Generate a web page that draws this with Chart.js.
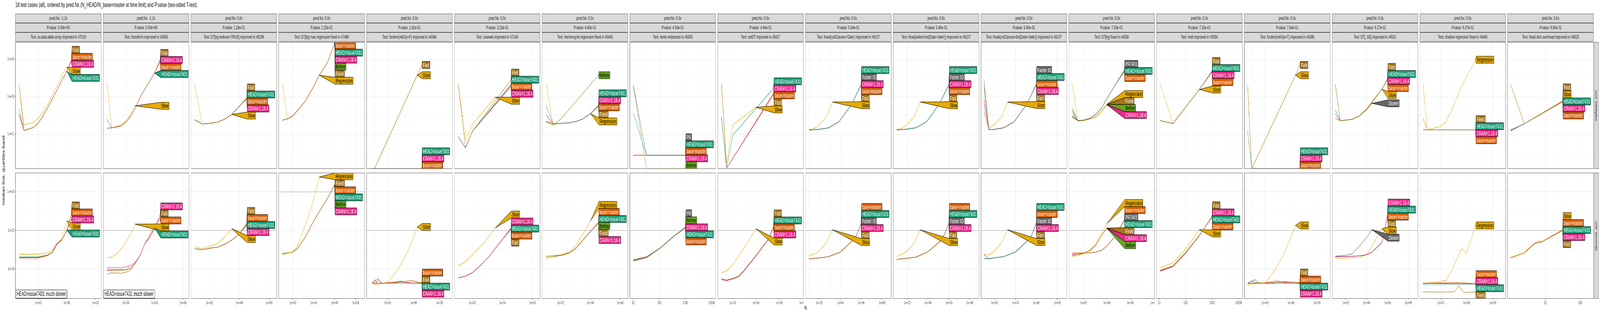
<!DOCTYPE html>
<html>
<head>
<meta charset="utf-8">
<script src="https://cdn.jsdelivr.net/npm/chart.js@4.4.1/dist/chart.umd.min.js"></script>
<style>
html,body{margin:0;padding:0;background:#fff;overflow:hidden}
#root{position:absolute;left:0;top:0;width:7200px;height:800px;transform-origin:0 0;font-family:"Liberation Sans",Arial,sans-serif}
.strip{position:absolute;box-sizing:border-box;background:#d9d9d9;border:1px solid #555;height:24px;font-size:13px;color:#1a1a1a;text-align:center;line-height:22px;white-space:nowrap;overflow:hidden}
.vstrip{position:absolute;box-sizing:border-box;background:#d9d9d9;border:1px solid #555;width:22px}
.vstrip span{position:absolute;left:50%;top:50%;transform:translate(-50%,-50%) rotate(90deg);font-size:13px;color:#1a1a1a;white-space:nowrap}
.cv{position:absolute}
#title{position:absolute;left:69px;top:3px;font-size:17px;color:#000;white-space:nowrap}
#ytitle{position:absolute;left:15px;top:437px;transform:translate(-50%,-50%) rotate(-90deg);font-size:15px;white-space:nowrap}
#xtitle{position:absolute;left:3620px;top:780px;font-size:15px}
</style>
</head>
<body>
<div id="root">
<div id="title">18 test cases (all), ordered by pred.Nx (N_HEAD/N_base=master at time limit) and P.value (two-sided T-test)</div>
<div id="ytitle">median line, quartiles band</div>
<div id="xtitle">N</div>
</div>
<script>
// ================= Facet strips =================
const testNames = [
  'as.data.table.array improved in #7019', 'transform improved in #5493', 'DT[by,verbose=TRUE] improved in #6296',
  'DT[by] max regression fixed in #7480', 'forderv(retGrp=F) improved in #4386', 'isoweek improved in #7144',
  'memrecycle regression fixed in #5463', 'fwrite refactored in #6393', 'setDT improved in #5427',
  "fread(colClasses='Date') improved in #6107", "fread(select=list(Date='date')) improved in #6107",
  "fread(colClasses=list(Date='date')) improved in #6107", 'DT[by] fixed in #4558', 'melt improved in #5054',
  'forderv(retGrp=T) improved in #4386', 'DT[,.SD] improved in #4501', 'shallow regression fixed in #4440',
  'fread disk overhead improved in #6925'
];
const predNx = ['-1.2x','-1.2x','0.0x','0.0x','0.0x','0.0x','0.0x','0.0x','0.0x','0.0x','0.0x','0.0x','0.0x','0.0x','0.0x','0.0x','0.0x','0.0x'];
const pValues = ['0.00e+00','0.00e+00','1.28e-01','2.25e-01','2.82e-01','3.23e-01','4.45e-01','4.59e-01','4.94e-01',
  '5.44e-01','5.46e-01','5.60e-01','7.30e-01','7.33e-01','7.84e-01','9.17e-01','9.37e-01','9.80e-01'];

// ================= Axes (log10 values) =================
const xRangeLog = [[0.6,9.63],[0.6,9.63],[0.75,6.52],[0.64,8.87],[0.53,10.5],[0.79,6.52],[0.75,6.52],[0.87,4.16],[0.69,8.1],
  [0.66,8.89],[0.66,8.89],[0.70,8.93],[0.72,8.1],[0.9,4.15],[0.58,10.55],[0.68,8.92],[0.59,10.51],[-0.09,2.39]];
const xTickLog = [[3,6,9],[3,6,9],[2,4,6],[2,4,6,8],[3,6,9],[2,4,6],[2,4,6],[1,2,3,4],[2,4,6,8],
  [2,4,6,8],[2,4,6,8],[2,4,6,8],[2,4,6,8],[1,2,3,4],[3,6,9],[2,4,6,8],[3,6,9],[1,2]];
const xTickLabels = [
  ['1e+03','1e+06','1e+09'],['1e+03','1e+06','1e+09'],['1e+02','1e+04','1e+06'],['1e+02','1e+04','1e+06','1e+08'],
  ['1e+03','1e+06','1e+09'],['1e+02','1e+04','1e+06'],['1e+02','1e+04','1e+06'],['10','100','1000','10000'],
  ['1e+02','1e+04','1e+06','1e+08'],['1e+02','1e+04','1e+06','1e+08'],['1e+02','1e+04','1e+06','1e+08'],
  ['1e+02','1e+04','1e+06','1e+08'],['1e+02','1e+04','1e+06','1e+08'],['10','100','1000','10000'],
  ['1e+03','1e+06','1e+09'],['1e+02','1e+04','1e+06','1e+08'],['1e+03','1e+06','1e+09'],['10','100']
];
const yRangeKb = [-0.85, 5.92];
const yRangeSec = [-5.54, 0.99];
const yTicksKb = [1,3,5], yTickLabelsKb = ['1e+01','1e+03','1e+05'];
const yTicksSec = [-4,-2,0], yTickLabelsSec = ['1e-04','1e-02','1e+00'];
const refLineSec = [-2,-2,-2,0,-2,-2,-2,-2,-2,-2,-2,-2,-2,-2,-2,-2,-2,-2];
const noteSec = ['HEAD=issue7431 much slower','HEAD=issue7431 much slower'];

// ================= Series: [label, [[log10 N, log10 value], ...]] (label order top to bottom) =================
const kb01 = [
  ['Fast', [[1,3.65],[1.5,1.2],[2.5,1.36],[3,1.6],[3.47,1.94],[4,2.42],[4.5,2.9],[6,4.37],[6.5,5.0]]],
  ['base=master', [[1,2.02],[1.5,1.2],[2.5,1.36],[3,1.6],[3.47,1.94],[4,2.42],[4.5,2.9],[6,4.37],[6.5,4.95]]],
  ['CRAN=1.18.4', [[1,2.12],[1.5,1.2],[2.5,1.36],[3,1.6],[3.47,1.94],[4,2.42],[4.5,2.9],[6,4.37],[6.5,4.9]]],
  ['Slow', [[1,3.65],[1.5,1.5],[2.5,1.63],[3,1.85],[3.47,2.17],[4,2.62],[4.5,3.1],[5.47,4.1],[6,4.58]]],
  ['HEAD=issue7431', [[1,2.35],[1.5,1.2],[2.5,1.36],[3,1.6],[3.47,1.94],[4,2.42],[4.5,2.9],[6,4.37]]]
];
const sec01 = [
  ['Fast', [[1,-3.4],[3,-3.4],[4,-3.28],[4.5,-3.12],[5,-2.7],[5.5,-2.47],[6,-2.0],[6.5,-1.04]]],
  ['base=master', [[1,-3.42],[3,-3.42],[4,-3.3],[4.5,-3.13],[5,-2.68],[5.5,-2.47],[6,-2.03],[6.5,-1.23]]],
  ['CRAN=1.18.4', [[1,-3.43],[3,-3.43],[4,-3.3],[4.5,-3.13],[4.8,-2.75],[5.5,-2.47],[6,-2.03],[6.5,-1.41]]],
  ['Slow', [[1,-3.23],[3,-3.23],[4,-3.16],[4.5,-3.03],[5.5,-2.4],[6,-1.5]]],
  ['HEAD=issue7431', [[1,-3.37],[3,-3.37],[4,-3.27],[4.5,-3.13],[5,-2.72],[5.5,-2.49],[6,-1.98]]]
];
const kb02 = [
  ['Fast', [[1,1.32],[1.5,1.34],[2.47,1.44],[3,1.65],[3.49,1.96],[3.95,2.37],[4.5,3.0],[6,4.27],[6.6,5.0]]],
  ['CRAN=1.18.4', [[1,1.32],[1.5,1.34],[2.47,1.44],[3,1.65],[3.49,1.96],[3.95,2.37],[4.5,3.0],[6,4.27],[6.6,4.95]]],
  ['base=master', [[1,1.32],[1.5,1.34],[2.47,1.44],[3,1.65],[3.49,1.96],[3.95,2.37],[4.5,3.0],[6,4.27],[6.6,4.9]]],
  ['HEAD=issue7431', [[1,1.79],[1.5,1.34],[2.47,1.44],[3,1.65],[3.49,1.96],[3.95,2.37],[4.5,3.0],[6,4.27]]],
  ['Slow', [[1,3.75],[1.5,1.34],[2.47,1.5],[3,1.73],[3.49,2.06],[3.95,2.52]]]
];
const sec02 = [
  ['CRAN=1.18.4', [[1,-3.94],[2.47,-3.92],[3,-3.9],[3.49,-3.82],[3.95,-3.66],[4.5,-3.28],[4.97,-2.69],[5.45,-2.38],[6,-1.88],[6.6,-1.15]]],
  ['Fast', [[1,-4.27],[1.5,-4.2],[2.47,-4.22],[3,-4.17],[3.49,-4.05],[3.95,-3.72],[4.5,-3.28],[4.97,-2.69],[6,-1.8],[6.6,-1.3]]],
  ['base=master', [[1,-4.07],[3,-4.05],[3.49,-3.95],[3.95,-3.7],[4.5,-3.28],[4.97,-2.69],[5.45,-2.4],[6,-1.9],[6.6,-1.4]]],
  ['Slow', [[1,-3.41],[1.5,-3.37],[1.97,-3.23],[2.47,-2.99],[3,-2.6],[3.49,-2.18],[3.95,-1.67]]],
  ['HEAD=issue7431', [[1,-4.04],[3,-4.02],[3.49,-3.95],[3.95,-3.7],[4.5,-3.28],[4.97,-2.69],[5.45,-2.38],[6,-1.88]]]
];
const kb03 = [
  ['Fast', [[1,1.77],[1.51,1.55],[2,1.58],[2.52,1.64],[3,1.8],[3.5,2.06],[4,2.49],[4.5,2.95]]],
  ['HEAD=issue7431', [[1,1.77],[1.51,1.55],[2,1.58],[2.52,1.64],[3,1.8],[3.5,2.06],[4,2.49],[4.5,2.93]]],
  ['base=master', [[1,1.77],[1.51,1.55],[2,1.58],[2.52,1.64],[3,1.8],[3.5,2.06],[4,2.49],[4.5,2.91]]],
  ['CRAN=1.18.4', [[1,1.77],[1.51,1.55],[2,1.58],[2.52,1.64],[3,1.8],[3.5,2.06],[4,2.49],[4.5,2.89]]],
  ['Slow', [[1,3.67],[1.51,1.55],[2,1.58],[2.52,1.64],[3,1.8],[3.5,2.06]]]
];
const sec03 = [
  ['Fast', [[1,-2.94],[1.51,-3.0],[2,-2.92],[2.52,-2.87],[3,-2.72],[3.5,-2.5],[4,-2.18],[4.5,-1.62]]],
  ['base=master', [[1,-2.94],[1.51,-3.0],[2,-2.92],[2.52,-2.87],[3,-2.72],[3.5,-2.5],[4,-2.18],[4.5,-1.66]]],
  ['HEAD=issue7431', [[1,-2.94],[1.51,-3.0],[2,-2.92],[2.52,-2.87],[3,-2.72],[3.5,-2.5],[4,-2.18],[4.5,-1.69]]],
  ['CRAN=1.18.4', [[1,-2.94],[1.51,-3.0],[2,-2.92],[2.52,-2.87],[3,-2.72],[3.5,-2.5],[4,-2.18],[4.5,-1.72]]],
  ['Slow', [[1,-2.85],[1.51,-2.94],[2,-2.81],[2.52,-2.67],[3,-2.36],[3.5,-1.91]]]
];
const kb04 = [
  ['base=master', [[1,1.75],[1.47,1.82],[2,1.98],[2.49,2.3],[3.17,2.76],[3.85,3.41],[4.53,4.15],[5.35,4.88],[6,5.9]]],
  ['HEAD=issue7431', [[1,1.75],[1.47,1.82],[2,1.98],[2.49,2.3],[3.17,2.76],[3.85,3.41],[4.53,4.15],[5.35,4.88],[6,5.9]]],
  ['CRAN=1.18.4', [[1,1.75],[1.47,1.82],[2,1.98],[2.49,2.3],[3.17,2.76],[3.85,3.41],[4.53,4.15],[5.35,4.88],[6,5.9]]],
  ['Before', [[1,1.75],[1.47,1.82],[2,1.98],[2.49,2.3],[3.17,2.76],[3.85,3.41],[4.53,4.15],[5.35,4.88],[6,5.9]]],
  ['Fixed', [[1,1.75],[1.47,1.82],[2,1.98],[2.49,2.3],[3.17,2.76],[3.85,3.41],[4.53,4.15],[5.35,4.88],[6,5.9]]],
  ['Regression', [[1,3.67],[1.47,1.82],[2,1.98],[2.49,2.3],[3.17,2.76],[3.85,3.41],[4.53,4.15]]]
];
const sec04 = [
  ['Regression', [[1,-3.26],[2,-3.1],[2.49,-2.76],[3.17,-1.74],[3.85,-0.66],[4.53,0.77]]],
  ['Fixed', [[1,-3.21],[2,-3.12],[2.49,-2.9],[3.17,-2.36],[3.85,-1.65],[4.53,-1.02],[5.35,-0.3],[6,0.39]]],
  ['base=master', [[1,-3.21],[2,-3.12],[2.49,-2.9],[3.17,-2.36],[3.85,-1.65],[4.53,-1.02],[5.35,-0.3],[6,0.38]]],
  ['HEAD=issue7431', [[1,-3.21],[2,-3.12],[2.49,-2.9],[3.17,-2.36],[3.85,-1.65],[4.53,-1.02],[5.35,-0.3],[6,0.37]]],
  ['Before', [[1,-3.21],[2,-3.12],[2.49,-2.9],[3.17,-2.36],[3.85,-1.65],[4.53,-1.02],[5.35,-0.3],[6,0.36]]],
  ['CRAN=1.18.4', [[1,-3.21],[2,-3.12],[2.49,-2.9],[3.17,-2.36],[3.85,-1.65],[4.53,-1.02],[5.35,-0.3],[6,0.35]]]
];
const kb05 = [
  ['Fast', [[1.46,-0.84],[6.41,4.15],[6.95,4.7]]],
  ['Slow', [[1.46,-0.84],[6.41,4.15]]],
  ['HEAD=issue7431', [[1,-0.84],[6.95,-0.84]]],
  ['CRAN=1.18.4', [[1,-0.84],[6.95,-0.84]]],
  ['base=master', [[1,-0.84],[6.95,-0.84]]]
];
const sec05 = [
  ['Slow', [[1.46,-4.82],[3,-4.69],[4.26,-3.97],[5.08,-3.3],[6,-2.36],[6.41,-1.82]]],
  ['base=master', [[1.2,-4.75],[1.6,-4.72],[2,-4.6],[2.4,-4.75],[3.5,-4.72],[4.5,-4.62],[5.5,-4.74],[6.95,-4.7]]],
  ['Fast', [[1.2,-4.76],[2.5,-4.74],[4,-4.7],[5.8,-4.6],[6.95,-4.72]]],
  ['HEAD=issue7431', [[1.2,-4.74],[1.9,-4.5],[2.3,-4.75],[3.5,-4.73],[6.95,-4.74]]],
  ['CRAN=1.18.4', [[1.2,-4.73],[1.5,-4.55],[1.8,-4.75],[4.3,-4.66],[6.95,-4.76]]]
];
const kb06 = [
  ['Fast', [[1.06,3.67],[1.54,0.3],[2,1.15],[4.57,3.9]]],
  ['HEAD=issue7431', [[1.06,0.87],[1.54,0.27],[2,1.15],[4.57,3.67]]],
  ['base=master', [[1.06,0.87],[1.54,0.27],[2,1.15],[4.57,3.6]]],
  ['CRAN=1.18.4', [[1.06,0.87],[1.54,0.27],[2,1.15],[4.57,3.55]]],
  ['Slow', [[1.06,3.67],[1.54,0.69],[2,1.52],[3.52,2.98]]]
];
const sec06 = [
  ['Slow', [[1.06,-3.84],[1.54,-3.61],[2,-3.26],[2.78,-2.63],[3.52,-1.87]]],
  ['CRAN=1.18.4', [[1.06,-4.46],[1.54,-4.37],[2,-4.19],[2.58,-3.79],[3.16,-3.3],[3.92,-2.54],[4.57,-1.88]]],
  ['HEAD=issue7431', [[1.06,-4.46],[1.54,-4.37],[2,-4.19],[2.58,-3.79],[3.16,-3.3],[3.92,-2.54],[4.57,-1.9]]],
  ['base=master', [[1.06,-4.46],[1.54,-4.37],[2,-4.19],[2.58,-3.79],[3.16,-3.3],[3.92,-2.54],[4.57,-1.92]]],
  ['Fast', [[1.06,-4.46],[1.54,-4.37],[2,-4.19],[2.58,-3.79],[3.16,-3.3],[3.92,-2.54],[4.57,-1.94]]]
];
const kb07 = [
  ['Before', [[1.02,1.66],[1.49,1.49],[2,1.8],[4.54,4.15]]],
  ['HEAD=issue7431', [[1.02,2.55],[1.49,1.56],[2,1.58],[2.54,1.61],[3.01,1.68],[3.49,1.82],[4,2.1],[4.54,2.55]]],
  ['CRAN=1.18.4', [[1.02,2.03],[1.49,1.56],[2,1.58],[2.54,1.61],[3.01,1.68],[3.49,1.82],[4,2.1],[4.54,2.53]]],
  ['base=master', [[1.02,1.7],[1.49,1.56],[2,1.58],[2.54,1.61],[3.01,1.68],[3.49,1.82],[4,2.1],[4.54,2.51]]],
  ['Fixed', [[1.02,1.7],[1.49,1.56],[2,1.58],[2.54,1.61],[3.01,1.68],[3.49,1.82],[4,2.1],[4.54,2.49]]],
  ['Regression', [[1.02,3.67],[1.49,1.52],[2,1.58],[2.54,1.61],[3.01,1.68],[3.49,1.82],[4,2.1]]]
];
const sec07 = [
  ['Regression', [[1.02,-3.36],[2,-3.26],[2.54,-3.12],[3.01,-2.81],[3.49,-2.18],[4,-1.51]]],
  ['base=master', [[1.02,-3.34],[2,-3.3],[2.54,-3.18],[3.01,-2.94],[3.49,-2.5],[4,-2.05],[4.54,-1.58]]],
  ['HEAD=issue7431', [[1.02,-3.34],[2,-3.3],[2.54,-3.18],[3.01,-2.94],[3.49,-2.5],[4,-2.05],[4.54,-1.59]]],
  ['Before', [[1.02,-3.43],[2,-3.3],[2.54,-3.18],[3.01,-2.94],[3.49,-2.5],[4,-2.05],[4.54,-1.6]]],
  ['Fixed', [[1.02,-3.34],[2,-3.3],[2.54,-3.18],[3.01,-2.94],[3.49,-2.5],[4,-2.05],[4.54,-1.61]]],
  ['CRAN=1.18.4', [[1.02,-3.34],[2,-3.3],[2.54,-3.18],[3.01,-2.94],[3.49,-2.5],[4,-2.05],[4.54,-1.62]]]
];
const kb08 = [
  ['PR', [[1,3.64],[1.51,-0.12],[3,-0.12]]],
  ['HEAD=issue7431', [[1,2.14],[1.51,-0.12],[3,-0.12]]],
  ['base=master', [[1,-0.12],[3,-0.12]]],
  ['CRAN=1.18.4', [[1,-0.12],[3,-0.12]]],
  ['Before', [[1,3.6],[1.51,-0.84],[3,-0.84]]]
];
const sec08 = [
  ['PR', [[1,-3.52],[1.51,-3.36],[2,-2.94],[2.5,-2.36],[3,-1.82]]],
  ['Before', [[1,-3.59],[1.51,-3.42],[2,-2.96],[2.5,-2.38],[3,-1.83]]],
  ['CRAN=1.18.4', [[1,-3.55],[1.51,-3.4],[2,-2.95],[2.5,-2.37],[3,-1.84]]],
  ['HEAD=issue7431', [[1,-3.55],[1.51,-3.4],[2,-2.95],[2.5,-2.37],[3,-1.85]]],
  ['base=master', [[1,-3.55],[1.51,-3.4],[2,-2.95],[2.5,-2.37],[3,-1.86]]]
];
const kb09 = [
  ['HEAD=issue7431', [[1.03,1.92],[1.47,-0.81],[2,0.95],[5.52,3.46]]],
  ['CRAN=1.18.4', [[1.03,1.92],[1.47,-0.81],[5.52,3.2]]],
  ['base=master', [[1.03,1.92],[1.47,-0.81],[5.52,3.15]]],
  ['Fast', [[1.03,3.67],[1.47,-0.81],[5.52,3.13]]],
  ['Slow', [[1.03,3.67],[1.47,-0.56],[2,1.5],[4,2.44]]]
];
const sec09 = [
  ['Fast', [[1.03,-4.51],[1.47,-4.58],[2,-4.49],[2.5,-4.37],[2.93,-4.1],[4,-3.3],[5.06,-2.45],[5.52,-1.8]]],
  ['HEAD=issue7431', [[1.03,-4.51],[1.47,-4.58],[2,-4.49],[2.5,-4.37],[2.93,-4.1],[4,-3.3],[5.06,-2.45],[5.52,-1.82]]],
  ['base=master', [[1.03,-4.51],[1.47,-4.58],[2,-4.49],[2.5,-4.37],[2.93,-4.1],[4,-3.3],[5.06,-2.45],[5.52,-1.84]]],
  ['CRAN=1.18.4', [[1.03,-4.55],[1.47,-4.6],[2,-4.52],[2.5,-4.4],[2.93,-4.13],[4,-3.33],[5.06,-2.48],[5.52,-1.86]]],
  ['Slow', [[1.03,-4.19],[1.47,-4.1],[2,-3.77],[2.93,-2.94],[4,-1.91]]]
];
const kb10 = [
  ['HEAD=issue7431', [[1,1.22],[1.52,1.25],[2,1.26],[2.87,1.34],[3.87,1.66],[5.07,2.58],[6,3.66]]],
  ['Faster IO', [[1,1.22],[1.52,1.25],[2,1.26],[2.87,1.34],[3.87,1.66],[5.07,2.58],[6,3.65]]],
  ['CRAN=1.18.4', [[1,1.22],[1.52,1.25],[2,1.26],[2.87,1.34],[3.87,1.66],[5.07,2.58],[6,3.64]]],
  ['base=master', [[1,1.22],[1.52,1.25],[2,1.26],[2.87,1.34],[3.87,1.66],[5.07,2.58],[6,3.63]]],
  ['Fast', [[1,1.22],[1.52,1.25],[2,1.26],[2.87,1.34],[3.87,1.66],[5.07,2.58],[6,3.62]]],
  ['Slow', [[1,1.24],[1.52,1.31],[2,1.52],[2.68,1.93],[3.25,2.72]]]
];
const sec10 = [
  ['base=master', [[1,-3.48],[2,-3.42],[2.87,-3.36],[4,-3.12],[5.07,-2.58],[5.53,-2.27],[6,-1.62]]],
  ['HEAD=issue7431', [[1,-3.48],[2,-3.42],[2.87,-3.36],[4,-3.12],[5.07,-2.58],[5.53,-2.27],[6,-1.63]]],
  ['Faster IO', [[1,-3.48],[2,-3.42],[2.87,-3.36],[4,-3.12],[5.07,-2.58],[5.53,-2.27],[6,-1.64]]],
  ['CRAN=1.18.4', [[1,-3.48],[2,-3.42],[2.87,-3.36],[4,-3.12],[5.07,-2.58],[5.53,-2.27],[6,-1.65]]],
  ['Fast', [[1,-3.48],[2,-3.42],[2.87,-3.36],[4,-3.12],[5.07,-2.58],[5.53,-2.27],[6,-1.66]]],
  ['Slow', [[1,-3.33],[1.52,-3.21],[2,-3.06],[2.68,-2.63],[3.25,-1.96]]]
];
const kb11 = [
  ['HEAD=issue7431', [[1,1.23],[1.52,1.25],[2,1.27],[2.87,1.35],[3.87,1.67],[5.07,2.6],[6,3.66]]],
  ['Faster IO', [[1,1.23],[1.52,1.25],[2,1.27],[2.87,1.35],[3.87,1.67],[5.07,2.6],[6,3.65]]],
  ['CRAN=1.18.4', [[1,1.23],[1.52,1.25],[2,1.27],[2.87,1.35],[3.87,1.67],[5.07,2.6],[6,3.64]]],
  ['base=master', [[1,1.23],[1.52,1.25],[2,1.27],[2.87,1.35],[3.87,1.67],[5.07,2.6],[6,3.63]]],
  ['Fast', [[1,1.23],[1.52,1.25],[2,1.27],[2.87,1.35],[3.87,1.67],[5.07,2.6],[6,3.62]]],
  ['Slow', [[1,1.25],[1.52,1.32],[2,1.53],[2.68,1.94],[3.25,2.72]]]
];
const sec11 = [
  ['base=master', [[1,-3.5],[2,-3.44],[2.87,-3.38],[4,-3.1],[5.07,-2.6],[5.53,-2.25],[6,-1.62]]],
  ['HEAD=issue7431', [[1,-3.5],[2,-3.44],[2.87,-3.38],[4,-3.1],[5.07,-2.6],[5.53,-2.25],[6,-1.63]]],
  ['Faster IO', [[1,-3.5],[2,-3.44],[2.87,-3.38],[4,-3.1],[5.07,-2.6],[5.53,-2.25],[6,-1.64]]],
  ['CRAN=1.18.4', [[1,-3.5],[2,-3.44],[2.87,-3.38],[4,-3.1],[5.07,-2.6],[5.53,-2.25],[6,-1.65]]],
  ['Fast', [[1,-3.5],[2,-3.44],[2.87,-3.38],[4,-3.1],[5.07,-2.6],[5.53,-2.25],[6,-1.66]]],
  ['Slow', [[1,-3.35],[1.52,-3.22],[2,-3.07],[2.68,-2.64],[3.25,-1.96]]]
];
const kb12 = [
  ['Faster IO', [[1,3.9],[1.46,1.24],[2,1.26],[2.87,1.34],[3.87,1.66],[5.07,2.58],[6,3.67]]],
  ['HEAD=issue7431', [[1,3.5],[1.46,1.24],[2,1.26],[2.87,1.34],[3.87,1.66],[5.07,2.58],[6,3.66]]],
  ['base=master', [[1,2.9],[1.46,1.24],[2,1.26],[2.87,1.34],[3.87,1.66],[5.07,2.58],[6,3.65]]],
  ['CRAN=1.18.4', [[1,2.65],[1.46,1.24],[2,1.26],[2.87,1.34],[3.87,1.66],[5.07,2.58],[6,3.64]]],
  ['Fast', [[1,2.2],[1.46,1.24],[2,1.26],[2.87,1.34],[3.87,1.66],[5.07,2.58],[6,3.63]]],
  ['Slow', [[1,3.6],[1.46,1.31],[2,1.52],[2.68,1.93],[3.25,2.72]]]
];
const sec12 = [
  ['HEAD=issue7431', [[1,-3.45],[1.46,-3.46],[2,-3.42],[2.87,-3.36],[4,-3.12],[5.07,-2.58],[5.53,-2.27],[6,-1.62]]],
  ['base=master', [[1,-3.45],[1.46,-3.46],[2,-3.42],[2.87,-3.36],[4,-3.12],[5.07,-2.58],[5.53,-2.27],[6,-1.63]]],
  ['Faster IO', [[1,-3.25],[1.46,-3.48],[2,-3.42],[2.87,-3.36],[4,-3.12],[5.07,-2.58],[5.53,-2.27],[6,-1.64]]],
  ['CRAN=1.18.4', [[1,-3.45],[1.46,-3.46],[2,-3.42],[2.87,-3.36],[4,-3.12],[5.07,-2.58],[5.53,-2.27],[6,-1.65]]],
  ['Fast', [[1,-3.45],[1.46,-3.46],[2,-3.42],[2.87,-3.36],[4,-3.12],[5.07,-2.58],[5.53,-2.27],[6,-1.66]]],
  ['Slow', [[1,-3.24],[1.46,-3.28],[2,-3.06],[2.68,-2.63],[3.25,-1.96]]]
];
const kb13 = [
  ['PR7401', [[1.02,1.95],[1.52,1.73],[2,1.75],[2.57,1.86],[3.06,2.07],[3.54,2.39],[4,2.9],[4.62,3.55],[5.5,4.42]]],
  ['HEAD=issue7431', [[1.02,2.3],[1.52,1.73],[2,1.75],[2.57,1.86],[3.06,2.07],[3.54,2.39],[4,2.9],[4.62,3.55],[5.5,4.38]]],
  ['base=master', [[1.02,1.9],[1.52,1.73],[2,1.75],[2.57,1.86],[3.06,2.07],[3.54,2.39],[4,2.9],[4.62,3.55],[5.5,4.34]]],
  ['Regression', [[1.02,3.67],[1.52,1.7],[2,1.73],[2.57,1.82],[3.06,1.93],[3.54,2.21],[4,2.6]]],
  ['Fixed', [[1.02,2.21],[1.52,1.7],[2,1.73],[2.57,1.82],[3.06,1.93],[3.54,2.21],[4,2.59]]],
  ['Before', [[1.02,2.44],[1.52,1.7],[2,1.73],[2.57,1.82],[3.06,1.93],[3.54,2.21],[4,2.58]]],
  ['CRAN=1.18.4', [[1.02,2.03],[1.52,1.7],[2,1.73],[2.57,1.82],[3.06,1.93],[3.54,2.21],[4,2.57]]]
];
const sec13 = [
  ['Regression', [[1.02,-3.36],[1.52,-3.3],[2,-3.21],[2.57,-2.99],[3.06,-2.67],[3.54,-2.14],[4,-1.65]]],
  ['base=master', [[1.02,-3.17],[2,-3.17],[2.57,-3.15],[3.06,-3.12],[3.54,-3.03],[4,-2.81],[4.62,-2.36],[5.5,-1.45]]],
  ['PR7401', [[1.02,-3.17],[2,-3.17],[2.57,-3.15],[3.06,-3.12],[3.54,-3.03],[4,-2.81],[4.62,-2.36],[5.5,-1.47]]],
  ['HEAD=issue7431', [[1.02,-3.17],[2,-3.17],[2.57,-3.15],[3.06,-3.12],[3.54,-3.03],[4,-2.81],[4.62,-2.36],[5.5,-1.49]]],
  ['Fixed', [[1.02,-3.3],[1.52,-3.24],[2,-3.17],[2.57,-3.03],[3.06,-2.76],[3.54,-2.27],[4,-1.87]]],
  ['CRAN=1.18.4', [[1.02,-3.25],[1.52,-3.24],[2,-3.17],[2.57,-3.03],[3.06,-2.76],[3.54,-2.27],[4,-1.88]]],
  ['Before', [[1.02,-3.3],[1.52,-3.24],[2,-3.17],[2.57,-3.03],[3.06,-2.76],[3.54,-2.27],[4,-1.89]]]
];
const kb14 = [
  ['Fast', [[1.04,1.73],[1.52,1.57],[2.52,3.39],[3,4.38]]],
  ['HEAD=issue7431', [[1.04,1.73],[1.52,1.57],[2.52,3.39],[3,4.36]]],
  ['CRAN=1.18.4', [[1.04,1.73],[1.52,1.57],[2.52,3.39],[3,4.34]]],
  ['base=master', [[1.04,1.73],[1.52,1.57],[2.52,3.39],[3,4.32]]],
  ['Slow', [[1.04,3.67],[1.52,1.57],[2.52,3.39]]]
];
const sec14 = [
  ['Fast', [[1.04,-4.08],[1.52,-3.86],[2,-3.17],[2.52,-2.27],[3,-1.27]]],
  ['CRAN=1.18.4', [[1.04,-4.12],[1.52,-3.88],[2,-3.19],[2.52,-2.28],[3,-1.29]]],
  ['HEAD=issue7431', [[1.04,-4.08],[1.52,-3.86],[2,-3.17],[2.52,-2.27],[3,-1.3]]],
  ['base=master', [[1.04,-4.06],[1.52,-3.84],[2,-3.15],[2.52,-2.25],[3,-1.32]]],
  ['Slow', [[1.04,-3.93],[1.52,-3.68],[2,-2.99],[2.52,-1.96]]]
];
const kb15 = [
  ['Fast', [[0.97,3.67],[1.45,-0.84],[6.52,4.15],[7.03,4.7]]],
  ['Slow', [[0.97,3.67],[1.45,-0.84],[6.52,4.15]]],
  ['HEAD=issue7431', [[0.97,1.2],[1.45,-0.84],[7.03,-0.84]]],
  ['CRAN=1.18.4', [[1.45,-0.84],[7.03,-0.84]]],
  ['base=master', [[1.45,-0.84],[7.03,-0.84]]]
];
const sec15 = [
  ['Slow', [[0.97,-4.8],[3,-4.73],[4.26,-3.97],[5.08,-3.3],[6,-2.36],[6.52,-1.74]]],
  ['Fast', [[0.97,-4.76],[2.2,-4.7],[3.4,-4.75],[5.2,-4.65],[7.03,-4.7]]],
  ['base=master', [[0.97,-4.74],[2.6,-4.73],[4.4,-4.62],[5.6,-4.74],[7.03,-4.72]]],
  ['HEAD=issue7431', [[0.97,-4.75],[1.8,-4.55],[2.3,-4.75],[4.0,-4.74],[7.03,-4.74]]],
  ['CRAN=1.18.4', [[0.97,-4.73],[1.5,-4.62],[1.9,-4.76],[5.0,-4.68],[7.03,-4.76]]]
];
const kb16 = [
  ['Fast', [[1,3.67],[1.47,1.73],[2,1.75],[2.62,1.8],[3.3,1.98],[4,2.35],[5.46,3.41],[6,3.98]]],
  ['HEAD=issue7431', [[1,2.3],[1.47,1.73],[2,1.75],[2.62,1.8],[3.3,1.98],[4,2.35],[5.46,3.41],[6,3.96]]],
  ['CRAN=1.18.4', [[1,2.1],[1.47,1.73],[2,1.75],[2.62,1.8],[3.3,1.98],[4,2.35],[5.46,3.41],[6,3.94]]],
  ['base=master', [[1,1.84],[1.47,1.73],[2,1.75],[2.62,1.8],[3.3,1.98],[4,2.35],[5.46,3.41],[6,3.92]]],
  ['Slow', [[1,3.67],[1.47,1.73],[2,1.75],[2.62,1.8],[3.3,1.98],[4,2.3],[5.46,3.41]]],
  ['Slower', [[1,3.67],[1.47,1.73],[2,1.75],[2.62,1.8],[3.3,1.98],[4,2.3],[4.5,2.65]]]
];
const sec16 = [
  ['CRAN=1.18.4', [[1,-3.36],[2,-3.36],[3.3,-3.32],[4,-3.26],[4.5,-3.12],[5.46,-2.63],[6,-1.2]]],
  ['HEAD=issue7431', [[1,-3.36],[2,-3.36],[3.3,-3.32],[4,-3.26],[4.5,-3.12],[5.46,-2.63],[6,-1.22]]],
  ['base=master', [[1,-3.36],[2,-3.36],[3.3,-3.32],[4,-3.26],[4.5,-3.12],[5.46,-2.63],[6,-1.24]]],
  ['Fast', [[1,-3.36],[2,-3.36],[3.3,-3.32],[4,-3.26],[4.5,-3.12],[5.46,-2.63],[6,-1.26]]],
  ['Slow', [[1,-3.45],[2,-3.43],[3.3,-3.4],[4,-3.26],[4.5,-2.81],[5.46,-1.91]]],
  ['Slower', [[1,-3.33],[2,-3.3],[2.62,-3.21],[3.3,-2.81],[4,-2.36],[4.5,-1.96]]]
];
const kb17 = [
  ['Regression', [[0.97,3.67],[1.46,1.24],[2.28,1.33],[3,1.43],[3.59,1.66],[4.41,2.44],[5.41,3.59],[7.03,4.98]]],
  ['Fixed', [[0.97,1.84],[1.46,1.24],[7.03,1.24]]],
  ['HEAD=issue7431', [[0.97,1.24],[7.03,1.24]]],
  ['CRAN=1.18.4', [[0.97,1.24],[7.03,1.24]]],
  ['base=master', [[0.97,1.24],[7.03,1.24]]]
];
const sec17 = [
  ['Regression', [[0.97,-4.73],[2.3,-4.7],[3.59,-4.6],[4.41,-3.97],[5.41,-2.94],[6,-3.17],[7.03,-1.74]]],
  ['base=master', [[0.97,-4.75],[3,-4.72],[5,-4.7],[7.03,-4.76]]],
  ['CRAN=1.18.4', [[0.97,-4.72],[4,-4.75],[7.03,-4.77]]],
  ['HEAD=issue7431', [[0.97,-4.78],[7.03,-4.78]]],
  ['Fixed', [[0.97,-5.18],[3,-5.2],[4.6,-5.18],[5.07,-4.86],[5.66,-5.22],[7.03,-5.18]]]
];
const kb18 = [
  ['Fast', [[0,3.65],[0.39,1.56],[1.5,2.78]]],
  ['Slow', [[0,3.65],[0.39,1.56],[1.5,2.76]]],
  ['HEAD=issue7431', [[0,1.23],[0.39,1.56],[1.5,2.75]]],
  ['CRAN=1.18.4', [[0,1.2],[0.39,1.56],[1.5,2.74]]],
  ['base=master', [[0,1.18],[0.39,1.56],[1.5,2.73]]]
];
const sec18 = [
  ['Slow', [[0,-3.4],[0.4,-3.14],[0.6,-2.75],[0.8,-2.55],[0.91,-2.56],[1.5,-1.96]]],
  ['base=master', [[0,-3.42],[0.4,-3.15],[0.7,-2.67],[0.91,-2.58],[1.5,-1.97]]],
  ['HEAD=issue7431', [[0,-3.42],[0.4,-3.15],[0.7,-2.67],[0.91,-2.58],[1.5,-1.98]]],
  ['CRAN=1.18.4', [[0,-3.42],[0.4,-3.15],[0.7,-2.67],[0.91,-2.58],[1.5,-1.99]]],
  ['Fast', [[0,-3.42],[0.4,-3.15],[0.7,-2.67],[0.91,-2.58],[1.5,-2.0]]]
];
const kbSeries = [kb01,kb02,kb03,kb04,kb05,kb06,kb07,kb08,kb09,kb10,kb11,kb12,kb13,kb14,kb15,kb16,kb17,kb18];
const secSeries = [sec01,sec02,sec03,sec04,sec05,sec06,sec07,sec08,sec09,sec10,sec11,sec12,sec13,sec14,sec15,sec16,sec17,sec18];

// ================= Styles =================
const seriesColors = {
  'Fast':'#A6761D','Fixed':'#A6761D','base=master':'#D95F02','CRAN=1.18.4':'#E7298A','HEAD=issue7431':'#1B9E77',
  'Slow':'#E6AB02','Regression':'#E6AB02','Before':'#66A61E','PR':'#666666','Faster IO':'#666666','PR7401':'#666666','Slower':'#666666'
};
const darkText = ['Slow','Regression','Before'];
const PANEL_LEFT = 69, PANEL_STEP = 395, PANEL_W = 387;
const ROW_TOP = [108, 443], ROW_H = [325, 323];
const PAD_L = 60, PAD_B = 22;
const root = document.getElementById('root');

// fit the 7200x800 layout into whatever viewport we get
function fitRoot() {
  const sx = (window.innerWidth || 7200) / 7200, sy = (window.innerHeight || 800) / 800;
  root.style.transform = `scale(${sx}, ${sy})`;
}
fitRoot();

// ================= Plugins =================
const panelPlugin = {
  id: 'panelPlugin',
  beforeDatasetsDraw(chart) {
    const o = chart.options.plugins.panelPlugin;
    if (o.ref === undefined) return;
    const {ctx, chartArea: a} = chart;
    const y = chart.scales.y.getPixelForValue(10 ** o.ref);
    ctx.save();
    ctx.strokeStyle = '#bdbdbd'; ctx.lineWidth = 1.5;
    ctx.beginPath(); ctx.moveTo(a.left, y); ctx.lineTo(a.right, y); ctx.stroke();
    ctx.restore();
  },
  afterDatasetsDraw(chart) {
    const {ctx, chartArea: a} = chart;
    const h = 18;
    const items = chart.data.datasets.map((ds, k) => {
      const pts = chart.getDatasetMeta(k).data;
      const p = pts[pts.length - 1];
      return {name: ds.label, px: p.x, py: p.y};
    });
    const colX = Math.max(...items.map(d => d.px)) + 2;
    // keep listed order, minimal shift (pool adjacent violators)
    const blocks = [];
    items.forEach((d, i) => {
      blocks.push({sum: d.py - i * h, n: 1});
      while (blocks.length > 1) {
        const b1 = blocks[blocks.length - 2], b2 = blocks[blocks.length - 1];
        if (b1.sum / b1.n <= b2.sum / b2.n) break;
        b1.sum += b2.sum; b1.n += b2.n; blocks.pop();
      }
    });
    let ys = [];
    blocks.forEach(b => { for (let j = 0; j < b.n; j++) ys.push(b.sum / b.n); });
    ys = ys.map((z, i) => z + i * h);
    const n = ys.length;
    for (let i = 0; i < n; i++) ys[i] = Math.min(ys[i], a.bottom - h / 2 - (n - 1 - i) * h);
    for (let i = 0; i < n; i++) ys[i] = Math.max(ys[i], a.top + h / 2 + i * h);

    ctx.save();
    ctx.beginPath(); ctx.rect(a.left, a.top, a.right - a.left, a.bottom - a.top); ctx.clip();
    ctx.font = '15px "Liberation Sans", Arial, sans-serif';
    ctx.textBaseline = 'middle';
    items.forEach((d, i) => {
      const w = ctx.measureText(d.name).width + 5;
      const top = ys[i] - h / 2, bot = ys[i] + h / 2;
      ctx.beginPath();
      ctx.moveTo(d.px, d.py);
      ctx.lineTo(colX, top); ctx.lineTo(colX + w, top); ctx.lineTo(colX + w, bot); ctx.lineTo(colX, bot);
      ctx.closePath();
      ctx.fillStyle = seriesColors[d.name]; ctx.fill();
      ctx.strokeStyle = '#000'; ctx.lineWidth = 1; ctx.stroke();
      ctx.fillStyle = darkText.includes(d.name) ? '#000' : '#fff';
      ctx.fillText(d.name, colX + 2.5, ys[i] + 1);
    });
    ctx.restore();

    const o = chart.options.plugins.panelPlugin;
    if (o.note) {
      ctx.save();
      ctx.font = '16px "Liberation Sans", Arial, sans-serif';
      const w = ctx.measureText(o.note).width + 10;
      ctx.fillStyle = '#fff'; ctx.strokeStyle = '#000'; ctx.lineWidth = 1;
      ctx.beginPath(); ctx.roundRect(a.left + 1.5, a.bottom - 22.5, w, 21, 3); ctx.fill(); ctx.stroke();
      ctx.fillStyle = '#000'; ctx.textBaseline = 'middle';
      ctx.fillText(o.note, a.left + 6, a.bottom - 11.5);
      ctx.restore();
    }
  },
  afterDraw(chart) {
    const o = chart.options.plugins.panelPlugin;
    const {ctx, chartArea: a} = chart;
    ctx.save();
    ctx.strokeStyle = '#555'; ctx.lineWidth = 1;
    ctx.strokeRect(a.left + 0.5, a.top + 0.5, a.right - a.left - 1, a.bottom - a.top - 1);
    ctx.fillStyle = '#4d4d4d'; ctx.strokeStyle = '#333';
    ctx.font = '11px "Liberation Sans", Arial, sans-serif';
    if (o.xLabels) {
      ctx.textAlign = 'center'; ctx.textBaseline = 'top';
      o.xTicks.forEach((v, k) => {
        const x = chart.scales.x.getPixelForValue(10 ** v);
        ctx.beginPath(); ctx.moveTo(x, a.bottom); ctx.lineTo(x, a.bottom + 3); ctx.stroke();
        ctx.fillText(o.xLabels[k], x, a.bottom + 5);
      });
    }
    if (o.yLabels) {
      ctx.textAlign = 'right'; ctx.textBaseline = 'middle';
      o.yTicks.forEach((v, k) => {
        const y = chart.scales.y.getPixelForValue(10 ** v);
        ctx.beginPath(); ctx.moveTo(a.left - 3, y); ctx.lineTo(a.left, y); ctx.stroke();
        ctx.fillText(o.yLabels[k], a.left - 5, y);
      });
    }
    ctx.restore();
  }
};

// ================= Build panels =================
function gridTicks(majors, lo, hi, step) {
  const t = majors.map(v => ({value: 10 ** v, minor: false}));
  for (let k = 0; k < majors.length - 1; k++) t.push({value: 10 ** ((majors[k] + majors[k + 1]) / 2), minor: true});
  const s = step || (majors[1] - majors[0]);
  [majors[0] - s / 2, majors[majors.length - 1] + s / 2].forEach(v => { if (v > lo && v < hi) t.push({value: 10 ** v, minor: true}); });
  return t.sort((p, q) => p.value - q.value);
}

function makeChart(i, row) {
  const series = row === 0 ? kbSeries[i] : secSeries[i];
  const yr = row === 0 ? yRangeKb : yRangeSec;
  const yt = row === 0 ? yTicksKb : yTicksSec;
  const xr = xRangeLog[i];
  const W = PANEL_W + PAD_L, H = ROW_H[row] + (row === 1 ? PAD_B : 0);
  const cv = document.createElement('canvas');
  cv.className = 'cv';
  cv.width = W; cv.height = H;
  cv.style.left = (PANEL_LEFT + i * PANEL_STEP - PAD_L) + 'px';
  cv.style.top = ROW_TOP[row] + 'px';
  root.appendChild(cv);

  const gridColor = c => (c.tick && c.tick.minor) ? '#f3f3f3' : '#e8e8e8';
  new Chart(cv.getContext('2d'), {
    type: 'line',
    data: {
      datasets: series.map(([name, pts]) => ({
        label: name,
        data: pts.map(([lx, ly]) => ({x: 10 ** lx, y: 10 ** ly})),
        borderColor: seriesColors[name], borderWidth: 1.3, pointRadius: 0, fill: false, tension: 0
      }))
    },
    options: {
      responsive: false, animation: false, devicePixelRatio: 1, events: [],
      layout: {padding: {left: PAD_L, right: 0, top: 0, bottom: row === 1 ? PAD_B : 0}},
      plugins: {
        legend: {display: false}, tooltip: {enabled: false},
        panelPlugin: {
          ref: row === 1 ? refLineSec[i] : undefined,
          note: row === 1 ? noteSec[i] : undefined,
          xTicks: xTickLog[i], xLabels: row === 1 ? xTickLabels[i] : null,
          yTicks: yt, yLabels: i === 0 ? (row === 0 ? yTickLabelsKb : yTickLabelsSec) : null
        }
      },
      scales: {
        x: {
          type: 'logarithmic', min: 10 ** xr[0], max: 10 ** xr[1],
          afterBuildTicks: s => { s.ticks = gridTicks(xTickLog[i], xr[0], xr[1]); },
          afterFit: s => { s.height = 0; },
          ticks: {display: false}, border: {display: false},
          grid: {color: gridColor, lineWidth: 1, drawTicks: false}
        },
        y: {
          type: 'logarithmic', min: 10 ** yr[0], max: 10 ** yr[1],
          afterBuildTicks: s => { s.ticks = gridTicks(yt, yr[0], yr[1], 2); },
          afterFit: s => { s.width = 0; },
          ticks: {display: false}, border: {display: false},
          grid: {color: gridColor, lineWidth: 1, drawTicks: false}
        }
      }
    },
    plugins: [panelPlugin]
  });
}

function addStrips(i) {
  const left = PANEL_LEFT + i * PANEL_STEP;
  ['pred.Nx: ' + predNx[i], 'P.value: ' + pValues[i], 'Test: ' + testNames[i]].forEach((t, k) => {
    const d = document.createElement('div');
    d.className = 'strip';
    d.style.left = left + 'px'; d.style.width = PANEL_W + 'px'; d.style.top = (35 + k * 24) + 'px';
    d.textContent = t;
    root.appendChild(d);
  });
}

for (let i = 0; i < testNames.length; i++) {
  addStrips(i);
  makeChart(i, 0);
  makeChart(i, 1);
}
['unit: kilobytes', 'unit: seconds'].forEach((t, r) => {
  const d = document.createElement('div');
  d.className = 'vstrip';
  d.style.left = (PANEL_LEFT + 17 * PANEL_STEP + PANEL_W + 2) + 'px';
  d.style.top = ROW_TOP[r] + 'px'; d.style.height = ROW_H[r] + 'px';
  d.innerHTML = '<span>' + t + '</span>';
  root.appendChild(d);
});
</script>
</body>
</html>
